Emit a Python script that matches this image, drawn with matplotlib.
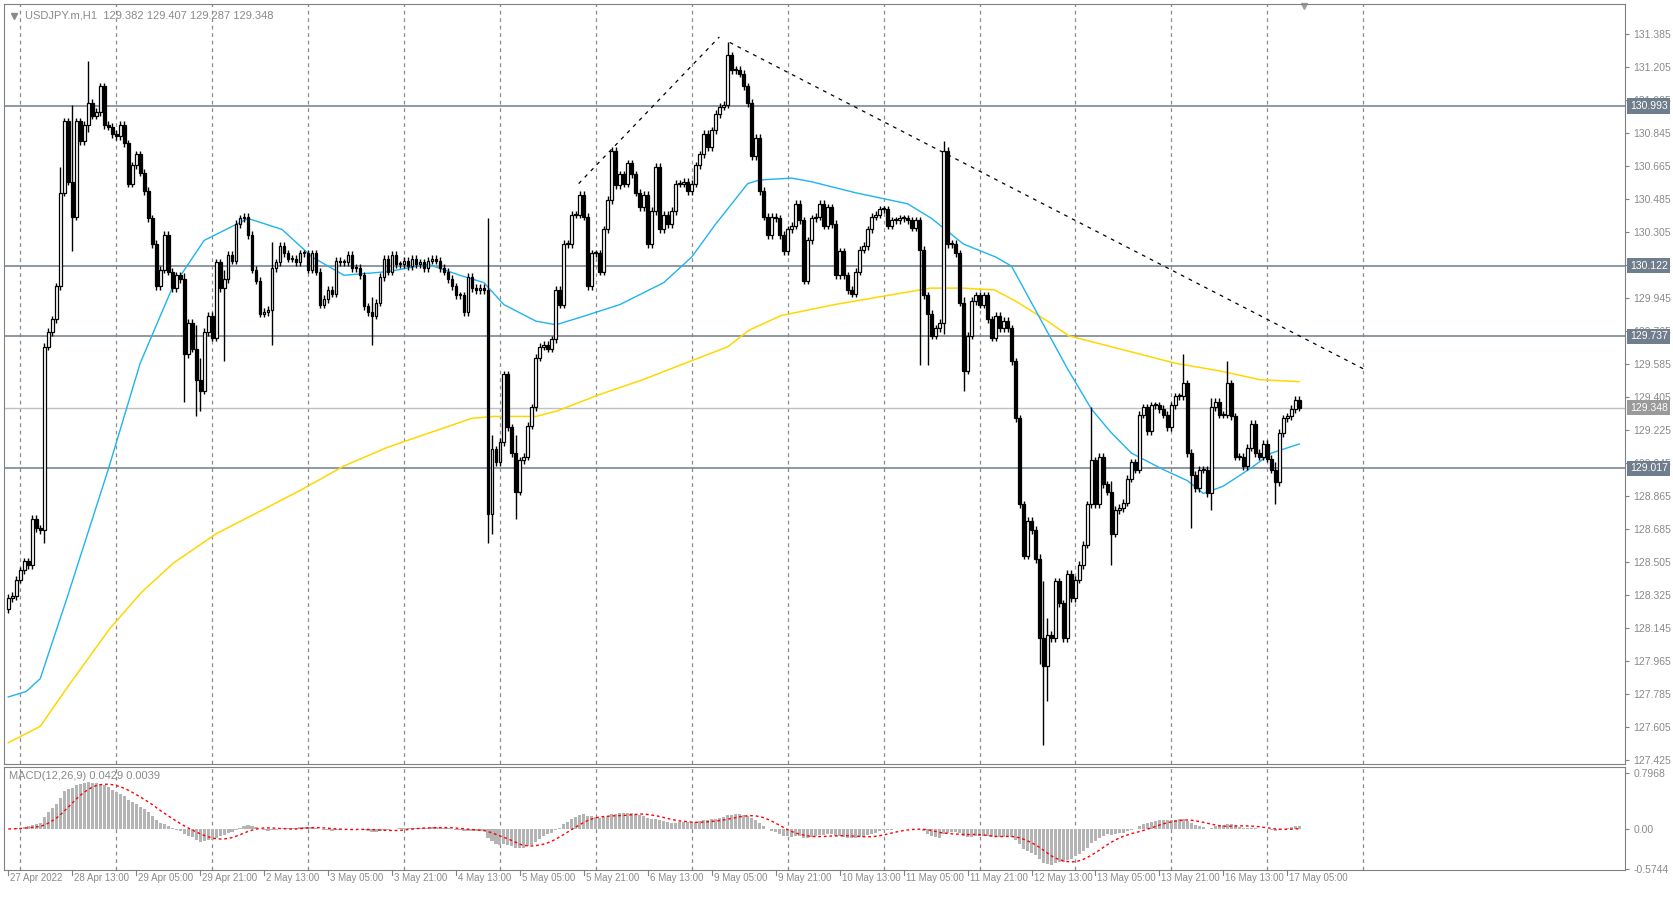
import numpy as np
import pandas as pd
import matplotlib
matplotlib.use("Agg")
import matplotlib.pyplot as plt

plt.rcParams['font.family'] = ['Liberation Sans', 'DejaVu Sans']

# hourly closes, USDJPY H1 (open = previous close)
closes = [
    128.31, 128.32, 128.41, 128.46, 128.51, 128.49, 128.74, 128.69, 128.68, 129.68,
    129.76, 129.83, 130.01, 130.52, 130.91, 130.58, 130.39, 130.91, 130.80, 130.89,
    131.01, 130.94, 130.96, 131.10, 130.89, 130.88, 130.84, 130.83, 130.89, 130.79,
    130.57, 130.67, 130.73, 130.63, 130.53, 130.38, 130.24, 130.01, 130.10, 130.29,
    130.09, 130.00, 130.07, 130.05, 129.64, 129.81, 129.67, 129.50, 129.44, 129.76,
    129.85, 129.73, 130.14, 130.00, 130.05, 130.18, 130.15, 130.35, 130.38, 130.39,
    130.29, 130.10, 130.04, 129.86, 129.87, 129.88, 130.11, 130.14, 130.23, 130.19,
    130.16, 130.16, 130.14, 130.19, 130.19, 130.10, 130.19, 130.09, 129.91, 129.94,
    129.99, 129.97, 130.15, 130.14, 130.14, 130.18, 130.11, 130.11, 130.07, 129.90,
    129.87, 129.85, 129.92, 130.06, 130.16, 130.09, 130.18, 130.13, 130.13, 130.15,
    130.12, 130.16, 130.13, 130.14, 130.11, 130.15, 130.16, 130.15, 130.11, 130.09,
    130.05, 130.01, 129.96, 129.96, 129.87, 130.06, 130.00, 129.99, 130.00, 129.99,
    128.77, 129.12, 129.05, 129.16, 129.53, 129.24, 129.10, 128.89, 129.06, 129.08,
    129.25, 129.35, 129.62, 129.68, 129.69, 129.67, 129.72, 129.99, 129.91, 130.24,
    130.24, 130.40, 130.40, 130.51, 130.39, 130.01, 130.19, 130.19, 130.09, 130.32,
    130.48, 130.75, 130.56, 130.62, 130.57, 130.68, 130.62, 130.52, 130.44, 130.51,
    130.24, 130.42, 130.66, 130.32, 130.40, 130.35, 130.42, 130.57, 130.57, 130.58,
    130.53, 130.57, 130.67, 130.73, 130.84, 130.77, 130.86, 130.95, 130.99, 131.00,
    131.27, 131.19, 131.19, 131.17, 131.10, 131.01, 130.72, 130.82, 130.53, 130.39,
    130.29, 130.39, 130.38, 130.29, 130.20, 130.32, 130.34, 130.46, 130.37, 130.04,
    130.26, 130.38, 130.39, 130.46, 130.34, 130.44, 130.35, 130.07, 130.20, 130.07,
    129.99, 129.97, 130.09, 130.21, 130.23, 130.32, 130.39, 130.40, 130.43, 130.43,
    130.34, 130.37, 130.37, 130.38, 130.38, 130.37, 130.33, 130.37, 130.21, 129.96,
    129.86, 129.74, 129.78, 129.81, 130.75, 130.24, 130.24, 130.19, 129.92, 129.55,
    129.74, 129.93, 129.96, 129.91, 129.96, 129.83, 129.73, 129.85, 129.78, 129.82,
    129.78, 129.60, 129.29, 128.82, 128.54, 128.73, 128.68, 128.52, 128.09, 127.94,
    128.11, 128.09, 128.40, 128.28, 128.09, 128.44, 128.31, 128.41, 128.49, 128.60,
    128.82, 129.06, 128.82, 129.08, 128.93, 128.89, 128.66, 128.79, 128.80, 128.83,
    128.96, 129.05, 129.01, 129.31, 129.35, 129.22, 129.36, 129.36, 129.34, 129.31,
    129.24, 129.36, 129.41, 129.41, 129.48, 129.10, 128.98, 128.91, 129.01, 129.01,
    128.88, 129.35, 129.38, 129.31, 129.31, 129.48, 129.30, 129.08, 129.08, 129.03,
    129.13, 129.26, 129.10, 129.08, 129.15, 129.07, 129.01, 128.94, 129.21, 129.29,
    129.30, 129.34, 129.39, 129.348,
]
first_open = 128.25

# notable wick extremes: bar -> (high, low)
spikes = {
    9: (129.70, 128.61), 13: (130.66, 130.00), 16: (131.00, 130.20), 20: (131.24, 130.85),
    44: (130.08, 129.38), 47: (129.80, 129.30), 48: (129.62, 129.33), 54: (130.10, 129.60),
    66: (130.25, 129.69), 91: (129.95, 129.69), 120: (130.38, 128.61), 121: (129.20, 128.66),
    127: (129.20, 128.74), 180: (131.34, 131.00), 228: (130.25, 129.58), 230: (129.95, 129.58),
    234: (130.80, 129.75), 239: (129.95, 129.44), 258: (128.55, 127.95), 259: (128.40, 127.51),
    260: (128.20, 127.75), 271: (129.35, 128.95), 276: (128.95, 128.49), 294: (129.64, 129.40),
    296: (129.12, 128.69), 301: (129.40, 128.79), 305: (129.60, 129.30), 317: (129.05, 128.82),
}

# moving averages (bar index, price)
ma_fast_x = [0, 4.5, 8, 14.7, 25, 33, 41, 49, 60, 68.5, 76, 84, 95, 105, 113, 119, 124, 132, 137,
             143, 153, 164, 171, 177, 185, 188, 196, 201, 212, 225, 231, 239, 247, 251, 257,
             265, 271, 276, 281, 289, 295, 299, 304, 311, 316, 323]
ma_fast_y = [127.77, 127.80, 127.87, 128.31, 129.01, 129.59, 130.00, 130.26, 130.38, 130.32,
             130.17, 130.07, 130.09, 130.13, 130.07, 130.03, 129.91, 129.82, 129.80, 129.84,
             129.91, 130.03, 130.17, 130.35, 130.57, 130.59, 130.60, 130.58, 130.52, 130.46,
             130.38, 130.24, 130.17, 130.12, 129.88, 129.56, 129.34, 129.21, 129.10, 129.01,
             128.95, 128.88, 128.92, 129.02, 129.10, 129.15]
ma_slow_x = [0, 8, 14.7, 25.3, 33.3, 41.3, 52, 62.7, 73.3, 84, 94.7, 105.3, 116, 121.3, 126.7,
             132, 137.3, 148, 158.7, 169.3, 180, 185.3, 193.3, 206.7, 222.7, 230.7, 238.7,
             246.7, 252, 260, 265.3, 276, 292, 302.7, 313.3, 323]
ma_slow_y = [127.52, 127.61, 127.82, 128.14, 128.34, 128.50, 128.66, 128.78, 128.90, 129.03,
             129.13, 129.21, 129.29, 129.30, 129.30, 129.30, 129.33, 129.42, 129.50, 129.59,
             129.68, 129.77, 129.85, 129.91, 129.97, 130.00, 130.00, 129.99, 129.93, 129.82,
             129.74, 129.68, 129.59, 129.55, 129.50, 129.49]

trend_up = ([142.7, 177.9], [130.57, 131.37])
trend_down = ([180.5, 339.0], [131.34, 129.56])

levels = [130.993, 130.122, 129.737, 129.017]
last_price = 129.348

date_labels = ["27 Apr 2022", "28 Apr 13:00", "29 Apr 05:00", "29 Apr 21:00", "2 May 13:00",
               "3 May 05:00", "3 May 21:00", "4 May 13:00", "5 May 05:00", "5 May 21:00",
               "6 May 13:00", "9 May 05:00", "9 May 21:00", "10 May 13:00", "11 May 05:00",
               "11 May 21:00", "12 May 13:00", "13 May 05:00", "13 May 21:00", "16 May 13:00",
               "17 May 05:00"]

price_ticks = [131.385, 131.205, 131.025, 130.845, 130.665, 130.485, 130.305, 130.125, 129.945,
               129.765, 129.585, 129.405, 129.225, 129.045, 128.865, 128.685, 128.505, 128.325,
               128.145, 127.965, 127.785, 127.605, 127.425]

c = np.array(closes)
o = np.concatenate([[first_open], c[:-1]])
n = len(c)
idx = np.arange(n)
hi = np.maximum(o, c) + 0.02
lo = np.minimum(o, c) - 0.02
for k, (h, l) in spikes.items():
    hi[k] = max(hi[k], h)
    lo[k] = min(lo[k], l)

s = pd.Series(c)
macd = s.ewm(span=12, adjust=False).mean() - s.ewm(span=26, adjust=False).mean()
signal = macd.rolling(9, min_periods=1).mean()

fig = plt.figure(figsize=(16.73, 8.97), dpi=100)
ax = fig.add_axes([0.00255, 0.1488, 0.9688, 0.8464])
ax2 = fig.add_axes([0.00255, 0.0298, 0.9688, 0.1154])
xlim = (-1.0, 404.5)
grid_x = np.arange(3, 340, 24)

for a in (ax, ax2):
    a.set_xlim(*xlim)
    for sp in a.spines.values():
        sp.set_color("#808080")
    a.set_xticks([])
    for gx in grid_x:
        a.axvline(gx, color="#8c8c8c", ls=(0, (3, 3)), lw=0.9, zorder=0)
    a.yaxis.tick_right()
    a.tick_params(axis="y", direction="out", length=3, color="#808080",
                  labelcolor="#8a8a8a", labelsize=7.5, pad=3)

ax.set_ylim(127.407, 131.548)
ax.set_yticks(price_ticks)
ax.set_yticklabels([f"{t:.3f}" for t in price_ticks])

for lv in levels:
    ax.axhline(lv, color="#6f7d8c", lw=1.1, zorder=1)
    ax.text(1.003, lv, f"{lv:.3f}", transform=ax.get_yaxis_transform(), va="center", ha="left",
            fontsize=7.5, color="white", zorder=10,
            bbox=dict(boxstyle="square,pad=0.25", fc="#6f7d8c", ec="none"))
ax.axhline(last_price, color="#c0c0c0", lw=1, zorder=1)
ax.text(1.003, last_price, f"{last_price:.3f}", transform=ax.get_yaxis_transform(), va="center",
        ha="left", fontsize=7.5, color="white", zorder=10,
        bbox=dict(boxstyle="square,pad=0.25", fc="#9a9a9a", ec="none"))

ax.plot(ma_slow_x, ma_slow_y, color="#ffd700", lw=1.1, zorder=2)
ax.plot(ma_fast_x, ma_fast_y, color="#1eb4f0", lw=1.0, zorder=2)
ax.plot(*trend_up, color="black", lw=0.9, ls=(0, (3, 4)), zorder=2)
ax.plot(*trend_down, color="black", lw=0.9, ls=(0, (3, 4)), zorder=2)

up = c >= o
ax.vlines(idx, lo, hi, color="black", lw=1.0, zorder=3)
body_h = np.where(np.abs(c - o) < 0.006, 0.006, np.abs(c - o))
ax.bar(idx[up], body_h[up], bottom=np.minimum(o, c)[up], width=0.7, color="white",
       edgecolor="black", lw=0.9, zorder=4)
ax.bar(idx[~up], body_h[~up], bottom=np.minimum(o, c)[~up], width=0.7, color="black",
       edgecolor="black", lw=0.9, zorder=4)

ax.text(0.013, 0.992, "USDJPY.m,H1  129.382 129.407 129.287 129.348", transform=ax.transAxes,
        va="top", ha="left", fontsize=8, color="#8a8a8a")
ax.plot([0.006], [0.985], marker="v", ms=4, color="#8a8a8a", transform=ax.transAxes)
ax.plot([1217 / 1518.0], [0.998], marker="v", ms=5, color="#a0a0a0", transform=ax.transAxes,
        clip_on=False)

ax2.set_ylim(-0.59, 0.888)
ax2.set_yticks([0.7968, 0.0, -0.5744])
ax2.set_yticklabels(["0.7968", "0.00", "-0.5744"])
ax2.bar(idx, macd.values, width=0.8, color="#b4b4b4", zorder=2)
ax2.plot(idx, signal.values, color="red", lw=1.0, ls=(0, (2, 2)), zorder=3)
ax2.text(0.003, 0.96, "MACD(12,26,9) 0.0429 0.0039", transform=ax2.transAxes, va="top",
         ha="left", fontsize=8, color="#8a8a8a")

for i, lab in enumerate(date_labels):
    xpos = i * 16
    ax2.text(xpos + 0.5, -0.03, lab, transform=ax2.get_xaxis_transform(), va="top", ha="left",
             fontsize=7, color="#8a8a8a")
    ax2.plot([xpos, xpos], [0, -0.05], transform=ax2.get_xaxis_transform(), color="#808080",
             lw=0.8, clip_on=False)

fig.savefig("out.png", dpi=100)
